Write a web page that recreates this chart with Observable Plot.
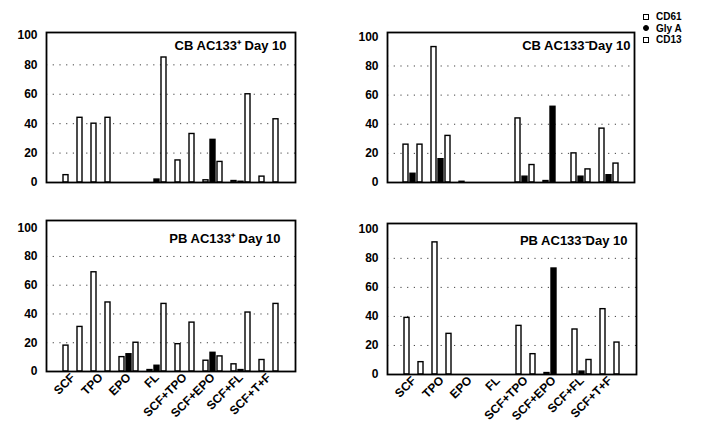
<!DOCTYPE html>
<html>
<head>
<meta charset="utf-8">
<script src="https://cdn.jsdelivr.net/npm/d3@7"></script>
<script src="https://cdn.jsdelivr.net/npm/@observablehq/plot@0.6"></script>
<style>
  html, body { margin: 0; padding: 0; background: #fff; }
  #root { position: relative; width: 703px; height: 424px; overflow: hidden; font-family: "Liberation Sans", Arial, sans-serif; }
  .panel { position: absolute; }
  #legend { position: absolute; left: 643px; top: 11px; font-size: 10px; font-weight: bold; color: #000; line-height: 11.5px; }
  #legend .row { display: flex; align-items: center; white-space: nowrap; }
  #legend .mk { display: inline-block; width: 4px; height: 4px; border: 1.3px solid #000; margin-right: 7px; box-sizing: content-box; }
</style>
</head>
<body>
<div id="root"><div id="legend"></div></div>
<script>
// ---- data ----
const groups = ["SCF", "TPO", "EPO", "FL", "SCF+TPO", "SCF+EPO", "SCF+FL", "SCF+T+F"];
const series = ["CD61", "Gly A", "CD13"];
const yTicks = [0, 20, 40, 60, 80, 100];
const gridValues = [20, 40, 60, 80];

const titles = ["CB AC133\u207A Day 10", "CB AC133\u207BDay 10", "PB AC133\u207A Day 10", "PB AC133\u207BDay 10"];

// CB AC133+ Day 10
const cbPosCD61 = [5, 40, 0, 0, 15, 1.5, 1, 4];
const cbPosGlyA = [0, 0, 0, 2, 0, 29, 0.5, 0];
const cbPosCD13 = [44, 44, 0, 85, 33, 14, 60, 43];
// CB AC133- Day 10
const cbNegCD61 = [26, 93, 0.5, 0, 44, 1, 20, 37];
const cbNegGlyA = [6, 16, 0, 0, 4, 52, 4, 5];
const cbNegCD13 = [26, 32, 0, 0, 12, 0, 9, 13];
// PB AC133+ Day 10
const pbPosCD61 = [18, 69, 10, 1, 19, 7.5, 5, 8];
const pbPosGlyA = [0, 0, 12, 4, 0, 13, 1, 0];
const pbPosCD13 = [31, 48, 20, 47, 34, 10.5, 41, 47];
// PB AC133- Day 10
const pbNegCD61 = [39, 91, 0, 0, 33.5, 1, 31, 45];
const pbNegGlyA = [0, 0, 0, 0, 0, 73, 2, 0];
const pbNegCD13 = [8.5, 28, 0, 0, 14, 0, 10, 22];

// ---- build ----
const keys = groups.flatMap((g, i) => {
  const k = series.map(s => g + "|" + s);
  return i < groups.length - 1 ? [...k, g + "|gap"] : k;
});
const midKeys = groups.map(g => g + "|" + series[1]);

function rows(vals) {
  return groups.flatMap((g, i) => series.map((s, j) => ({key: g + "|" + s, group: g, series: s, value: vals[j][i]})));
}

const panels = [
  {vals: [cbPosCD61, cbPosGlyA, cbPosCD13], left: 0, top: 0, width: 310, height: 190, mL: 46, mR: 15, mT: 32, mB: 8, yMax: 102, xAxis: false, dx: -9, dy: 8},
  {vals: [cbNegCD61, cbNegGlyA, cbNegCD13], left: 320, top: 0, width: 320, height: 190, mL: 67, mR: 6, mT: 32, mB: 8, yMax: 103, xAxis: false, dx: -4, dy: 8},
  {vals: [pbPosCD61, pbPosGlyA, pbPosCD13], left: 0, top: 200, width: 310, height: 224, mL: 46, mR: 15, mT: 20, mB: 53, yMax: 105, xAxis: true, dx: -15, dy: 13},
  {vals: [pbNegCD61, pbNegGlyA, pbNegCD13], left: 320, top: 200, width: 320, height: 224, mL: 67, mR: 4, mT: 23, mB: 50, yMax: 104, xAxis: true, dx: -9, dy: 12}
];

const root = document.getElementById("root");
panels.forEach((p, idx) => {
  const data = rows(p.vals);
  const marks = [
    Plot.ruleY(gridValues, {stroke: "#000", strokeWidth: 1, strokeDasharray: "1.2,5.5", strokeOpacity: 0.75}),
    Plot.barY(data.filter(d => d.series !== "Gly A"), {x: "key", y: "value", fill: "white", stroke: "black", strokeWidth: 1.4}),
    Plot.barY(data.filter(d => d.series === "Gly A"), {x: "key", y: "value", fill: "black", stroke: "black", strokeWidth: 1.4}),
    Plot.frame({stroke: "black", strokeWidth: 1.8}),
    Plot.axisY({ticks: yTicks, tickSize: 0, tickPadding: 9, label: null, fontSize: 12, fontWeight: "bold"}),
    Plot.text([titles[idx]], {text: d => d, frameAnchor: "top-right", dx: p.dx, dy: p.dy, fontSize: 13, fontWeight: "bold", fill: "black"})
  ];
  if (p.xAxis) {
    marks.push(Plot.axisX({ticks: midKeys, tickFormat: k => k.split("|")[0], tickRotate: -45, tickSize: 0, tickPadding: 4, label: null, fontSize: 12, fontWeight: "bold"}));
  }
  const chart = Plot.plot({
    width: p.width,
    height: p.height,
    marginLeft: p.mL,
    marginRight: p.mR,
    marginTop: p.mT,
    marginBottom: p.mB,
    style: {fontFamily: "Liberation Sans, Arial, sans-serif", fontSize: "12px", fontWeight: "bold", color: "black", background: "transparent", overflow: "visible"},
    x: {domain: keys, paddingInner: 0.25, paddingOuter: 0.5, axis: p.xAxis ? undefined : null, label: null},
    y: {domain: [0, p.yMax], label: null},
    marks
  });
  chart.classList.add("panel");
  chart.style.left = p.left + "px";
  chart.style.top = p.top + "px";
  root.appendChild(chart);
});

// legend
const legend = document.getElementById("legend");
series.forEach((s, i) => {
  const row = document.createElement("div");
  row.className = "row";
  const mk = document.createElement("span");
  mk.className = "mk";
  if (s === "Gly A") { mk.style.background = "#000"; mk.style.borderRadius = "50%"; }
  const t = document.createElement("span");
  t.textContent = s;
  row.appendChild(mk);
  row.appendChild(t);
  legend.appendChild(row);
});
</script>
</body>
</html>
